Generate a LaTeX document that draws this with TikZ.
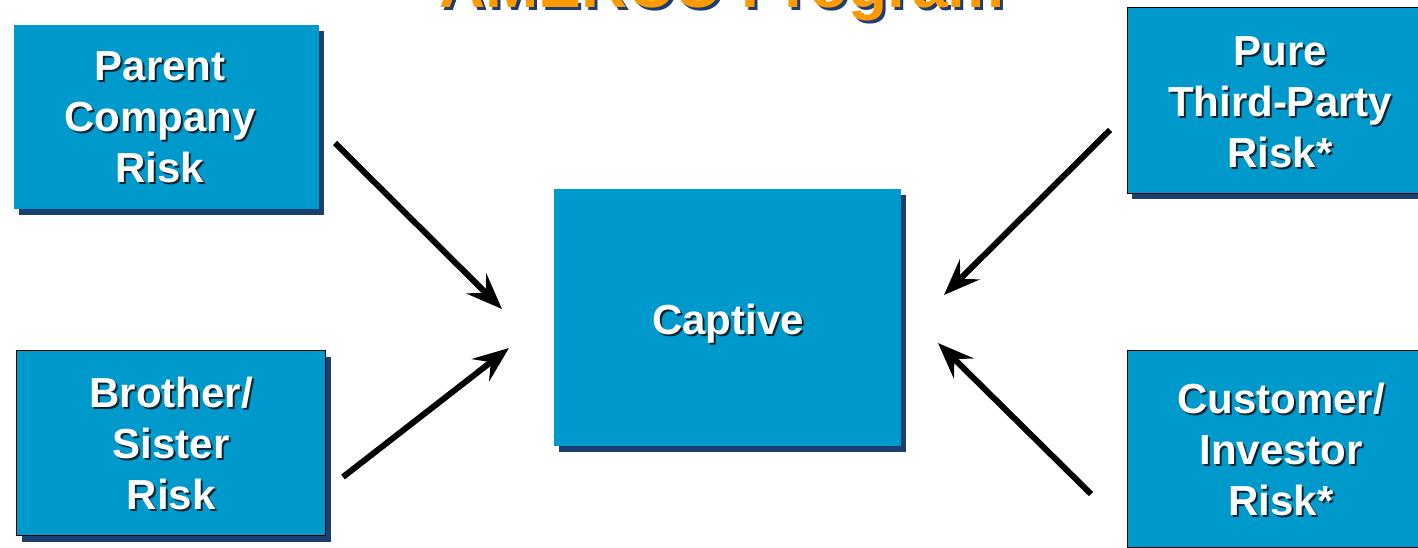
\documentclass[tikz,border=0pt]{standalone}
\usepackage{fontspec}
\setmainfont{Liberation Sans}
\usetikzlibrary{arrows.meta,calc}

\definecolor{boxblue}{RGB}{0,153,204}
\definecolor{navy}{RGB}{28,62,112}
\definecolor{titleorange}{RGB}{255,153,0}

\tikzset{
  box/.style={fill=boxblue, inner sep=0pt, anchor=north west},
  boxline/.style={box, draw=black, line width=1.2pt},
  dropshadow/.style={fill=navy, inner sep=0pt, anchor=north west},
  label/.style={text=white, font=\bfseries\fontsize{42}{51}\selectfont, align=center, inner sep=0pt},
  labelshadow/.style={label, text=black, opacity=0.75},
  feed/.style={line width=6pt, -{Stealth[length=36pt, width=28pt, inset=13pt]}},
}

\begin{document}
\begin{tikzpicture}[x=1pt, y=-1pt]
  \useasboundingbox (0,0) rectangle (1418,548);
  \clip (0,0) rectangle (1418,548);

  % heading, partly outside the frame
  \node[anchor=base, text=navy, font=\bfseries\fontsize{64}{70}\selectfont, inner sep=0pt] (title-sh) at (725,11) {AMERCO Program};
  \node[anchor=base, text=titleorange, font=\bfseries\fontsize{64}{70}\selectfont, inner sep=0pt] (title) at (722,8) {AMERCO Program};

  % Parent Company Risk
  \node[dropshadow, minimum width=305pt, minimum height=184pt] (parent-sh) at (19,31) {};
  \node[box, minimum width=305pt, minimum height=184pt] (parent) at (14,25) {};
  \node[labelshadow] (parent-ts) at (162,119) {Parent\\Company\\Risk};
  \node[label] (parent-t) at (160,117) {Parent\\Company\\Risk};

  % Brother/Sister Risk
  \node[dropshadow, minimum width=309pt, minimum height=185pt] (brother-sh) at (22,357) {};
  \node[boxline, minimum width=309pt, minimum height=185pt] (brother) at (16,350) {};
  \node[labelshadow] (brother-ts) at ($(brother.center)+(2,2)$) {Brother/\\Sister\\Risk};
  \node[label] (brother-t) at (brother.center) {Brother/\\Sister\\Risk};

  % Captive
  \node[dropshadow, minimum width=347pt, minimum height=257pt] (captive-sh) at (559,195) {};
  \node[box, minimum width=347pt, minimum height=257pt] (captive) at (554,189) {};
  \node[labelshadow, anchor=base] (captive-ts) at (730,336) {Captive};
  \node[label, anchor=base] (captive-t) at (728,334) {Captive};

  % Pure Third-Party Risk
  \node[dropshadow, minimum width=310pt, minimum height=186pt] (pure-sh) at (1132,13) {};
  \node[boxline, minimum width=310pt, minimum height=186pt] (pure) at (1127,7) {};
  \node[labelshadow] (pure-ts) at (1282,104) {Pure\\Third-Party\\Risk*};
  \node[label] (pure-t) at (1280,102) {Pure\\Third-Party\\Risk*};

  % Customer/Investor Risk
  \node[dropshadow, minimum width=310pt, minimum height=197pt] (customer-sh) at (1132,356) {};
  \node[boxline, minimum width=310pt, minimum height=197pt] (customer) at (1127,350) {};
  \node[labelshadow] (customer-ts) at (1283,451) {Customer/\\Investor\\Risk*};
  \node[label] (customer-t) at (1281,449) {Customer/\\Investor\\Risk*};

  % arrows into the captive
  \coordinate (a1s) at (335,143);  \coordinate (a1e) at (502,309);
  \coordinate (a2s) at (343,477);  \coordinate (a2e) at (509,348);
  \coordinate (a3s) at (1110,130); \coordinate (a3e) at (944,295);
  \coordinate (a4s) at (1091,494); \coordinate (a4e) at (938,343);
  \draw[feed] (a1s) -- (a1e);
  \draw[feed] (a2s) -- (a2e);
  \draw[feed] (a3s) -- (a3e);
  \draw[feed] (a4s) -- (a4e);
\end{tikzpicture}
\end{document}
